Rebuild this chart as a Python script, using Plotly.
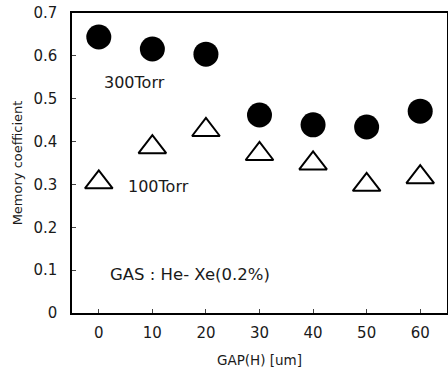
import plotly.graph_objects as go

gap = [0, 10, 20, 30, 40, 50, 60]
torr300 = [0.644, 0.616, 0.604, 0.462, 0.439, 0.434, 0.471]
torr100 = [0.305, 0.387, 0.427, 0.371, 0.349, 0.299, 0.317]
xticks = [0, 10, 20, 30, 40, 50, 60]
yticks = [0, 0.1, 0.2, 0.3, 0.4, 0.5, 0.6, 0.7]
ytick_text = ["0", "0.1", "0.2", "0.3", "0.4", "0.5", "0.6", "0.7"]

font = "DejaVu Sans, sans-serif"
txt = "#1a1a1a"

fig = go.Figure()
fig.add_trace(go.Scatter(x=gap, y=torr300, mode="markers", name="300Torr",
                         marker=dict(symbol="circle", size=25, color="black",
                                     line=dict(width=0))))
fig.add_trace(go.Scatter(x=gap, y=torr100, mode="markers", name="100Torr",
                         marker=dict(symbol="triangle-up-open", size=24, color="black",
                                     line=dict(width=2, color="black"))))

fig.add_annotation(x=0.6, y=0.539, text="300Torr", showarrow=False, xanchor="left",
                   font=dict(size=16, color=txt))
fig.add_annotation(x=5.1, y=0.296, text="100Torr", showarrow=False, xanchor="left",
                   font=dict(size=16, color=txt))
fig.add_annotation(x=1.8, y=0.091, text="GAS : He- Xe(0.2%)", showarrow=False, xanchor="left",
                   font=dict(size=16.5, color=txt))

fig.update_layout(
    width=448, height=376,
    margin=dict(l=72, r=1, t=13, b=63),
    paper_bgcolor="white", plot_bgcolor="white",
    showlegend=False,
    font=dict(family=font, size=15, color=txt),
    xaxis=dict(range=[-5, 65], tickvals=xticks, ticks="inside", ticklen=4,
               showline=True, linecolor="black", linewidth=1.5, mirror=True,
               showgrid=False, zeroline=False, ticklabelstandoff=5, automargin=False,
               title=dict(text="GAP(H) [um]", standoff=15, font=dict(size=13.5))),
    yaxis=dict(range=[0, 0.7], tickvals=yticks, ticktext=ytick_text, ticks="inside", ticklen=4,
               showline=True, linecolor="black", linewidth=1.5, mirror=True,
               showgrid=False, zeroline=False, ticklabelstandoff=10, automargin=False,
               title=dict(text="Memory coefficient", standoff=8, font=dict(size=13))),
)

fig.write_html("out.html", config={"displayModeBar": False},
               post_script="document.body.style.margin='0';")
